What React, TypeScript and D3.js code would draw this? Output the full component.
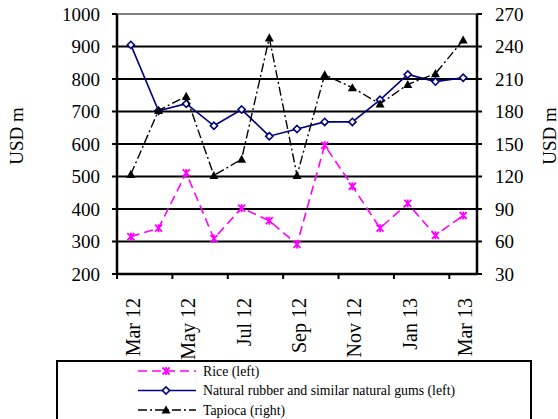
import React from "react";
import * as d3 from "d3";

// monthly categories, Mar 12 .. Mar 13
const months = [
  "Mar 12", "Apr 12", "May 12", "Jun 12", "Jul 12", "Aug 12", "Sep 12",
  "Oct 12", "Nov 12", "Dec 12", "Jan 13", "Feb 13", "Mar 13",
];
const tickMonths = ["Mar 12", "May 12", "Jul 12", "Sep 12", "Nov 12", "Jan 13", "Mar 13"];

const rice = [315, 341, 511, 309, 403, 364, 291, 596, 470, 341, 417, 319, 380];
const rubber = [905, 702, 724, 656, 706, 624, 646, 668, 668, 736, 814, 792, 804];
const tapioca = [122, 181, 194, 121, 136, 248, 121, 214, 202, 187, 205, 215, 246];

const leftTicks = [200, 300, 400, 500, 600, 700, 800, 900, 1000];
const rightTicks = [30, 60, 90, 120, 150, 180, 210, 240, 270];

const legendItems = [
  "Rice (left)",
  "Natural rubber and similar natural gums (left)",
  "Tapioca (right)",
];

const FONT = "Liberation Serif";
const W = 558;
const H = 419;
const plot = { left: 117, right: 477, top: 14, bottom: 274 };

const x = d3.scaleBand<string>().domain(months).range([plot.left, plot.right]);
const cx = (m: string) => (x(m) as number) + x.bandwidth() / 2;
const yL = d3.scaleLinear().domain([200, 1000]).range([plot.bottom, plot.top]);
const yR = d3.scaleLinear().domain([30, 270]).range([plot.bottom, plot.top]);

type Marker = (px: number, py: number, key?: string | number) => React.ReactElement;

const star: Marker = (px, py, key) => {
  const s = 3.5;
  return (
    <path key={key}
      d={`M${px - s},${py - s}L${px + s},${py + s}M${px - s},${py + s}L${px + s},${py - s}M${px},${py - s - 0.5}L${px},${py + s + 0.5}`}
      stroke="#ff00ff" strokeWidth={1.8} fill="none" />
  );
};
const diamond: Marker = (px, py, key) => {
  const s = 3.6;
  return (
    <path key={key} d={`M${px},${py - s}L${px + s},${py}L${px},${py + s}L${px - s},${py}Z`}
      stroke="#000080" strokeWidth={1.6} fill="#fff" />
  );
};
const triangle: Marker = (px, py, key) => {
  const s = 4.5;
  return <path key={key} d={`M${px},${py - s}L${px + s},${py + s * 0.8}L${px - s},${py + s * 0.8}Z`} fill="#000" />;
};

const series = [
  { values: rice, y: yL, color: "#ff00ff", dash: "9,5", width: 1.6, marker: star },
  { values: rubber, y: yL, color: "#000080", dash: "none", width: 1.6, marker: diamond },
  { values: tapioca, y: yR, color: "#000", dash: "9,3,2,3", width: 1.4, marker: triangle },
];

const App: React.FC = () => {
  return (
    <svg width={W} height={H} fontFamily={FONT}
      style={{ position: "absolute", left: 0, top: 0, display: "block" }}>
      <rect width={W} height={H} fill="#fff" />

      {/* gridlines */}
      {leftTicks.slice(1).map((d) => (
        <line key={d} x1={plot.left} x2={plot.right} y1={yL(d)} y2={yL(d)}
          stroke={d === 1000 ? "#808080" : "#000"} strokeWidth={2} />
      ))}

      {/* left axis */}
      <line x1={plot.left} x2={plot.left} y1={plot.top} y2={plot.bottom} stroke="#000" strokeWidth={2.5} />
      {leftTicks.map((d) => (
        <g key={d} transform={`translate(${plot.left},${yL(d)})`}>
          <line x1={-5} x2={0} stroke="#000" strokeWidth={2} />
          <text x={-17} textAnchor="end" dominantBaseline="central" fontSize={19}>{d}</text>
        </g>
      ))}

      {/* right axis */}
      <line x1={plot.right} x2={plot.right} y1={plot.top} y2={plot.bottom} stroke="#000" strokeWidth={2.5} />
      {rightTicks.map((d) => (
        <g key={d} transform={`translate(${plot.right},${yR(d)})`}>
          <line x1={0} x2={5} stroke="#000" strokeWidth={2} />
          <text x={18} dominantBaseline="central" fontSize={19}>{d}</text>
        </g>
      ))}

      {/* bottom axis */}
      <line x1={plot.left} x2={plot.right} y1={plot.bottom} y2={plot.bottom} stroke="#000" strokeWidth={2.5} />
      {months.filter((_, i) => i % 2 === 0).map((m) => (
        <line key={m} x1={x(m)} x2={x(m)} y1={plot.bottom} y2={plot.bottom + 5} stroke="#000" strokeWidth={2} />
      ))}
      {tickMonths.map((m) => (
        <text key={m} transform={`translate(${cx(m) + 2},${plot.bottom + 24}) rotate(-90)`}
          textAnchor="end" dominantBaseline="central" fontSize={20}>{m}</text>
      ))}

      {/* axis titles */}
      <text transform="translate(16,136) rotate(-90)" textAnchor="middle" dominantBaseline="central" fontSize={19}>USD m</text>
      <text transform="translate(549,136) rotate(-90)" textAnchor="middle" dominantBaseline="central" fontSize={19}>USD m</text>

      {/* series */}
      {series.map((s, si) => {
        const line = d3.line<number>().x((_, i) => cx(months[i])).y((d) => s.y(d));
        return (
          <g key={si}>
            <path d={line(s.values) || ""} fill="none" stroke={s.color} strokeWidth={s.width} strokeDasharray={s.dash} />
            {s.values.map((v, i) => s.marker(cx(months[i]), s.y(v), i))}
          </g>
        );
      })}

      {/* legend */}
      <rect x={57} y={361} width={474} height={70} fill="#fff" stroke="#000" strokeWidth={2} />
      {legendItems.map((name, i) => {
        const s = series[i];
        const ly = 371 + i * 19.5;
        return (
          <g key={name}>
            <line x1={138} x2={196} y1={ly} y2={ly} stroke={s.color} strokeWidth={s.width} strokeDasharray={s.dash} />
            {s.marker(166, ly)}
            <text x={203} y={ly} dominantBaseline="central" fontSize={13.8}>{name}</text>
          </g>
        );
      })}
    </svg>
  );
};

export default App;
